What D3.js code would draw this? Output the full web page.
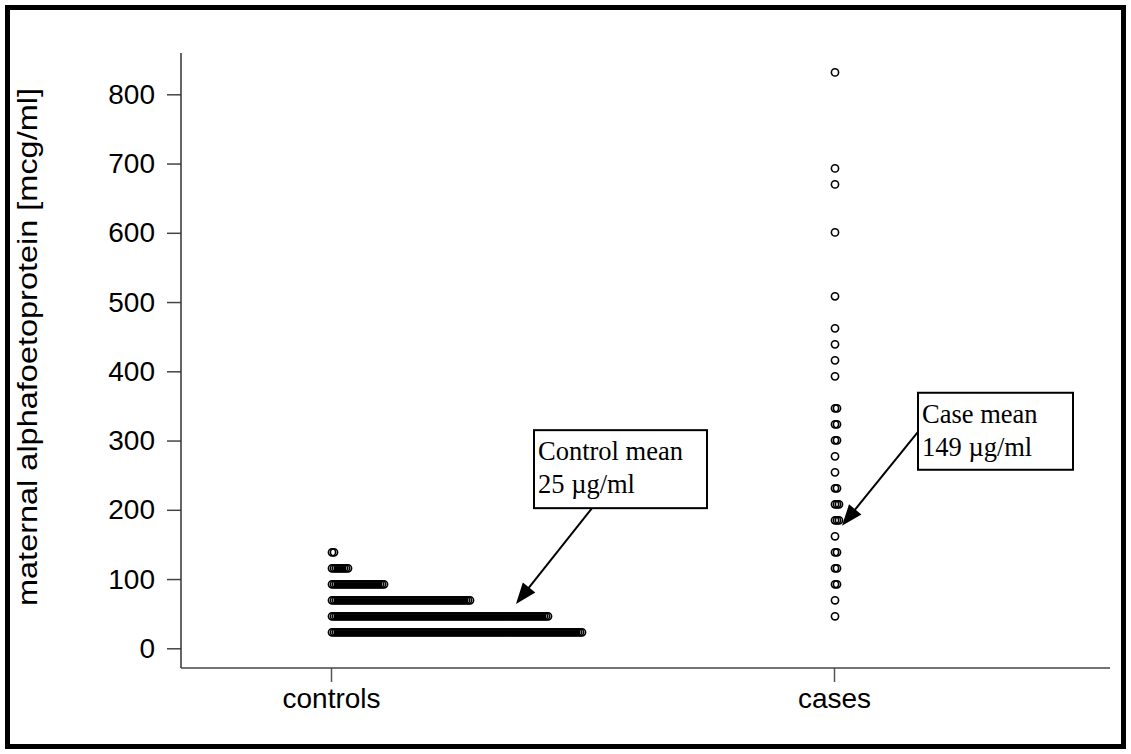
<!DOCTYPE html>
<html>
<head>
<meta charset="utf-8">
<script src="https://cdn.jsdelivr.net/npm/d3@7/dist/d3.min.js"></script>
<style>
  html, body { margin: 0; padding: 0; background: #fff; }
  svg { display: block; }
</style>
</head>
<body>
<svg id="chart" width="1131" height="754"></svg>
<script>
// Groups on the horizontal axis
const categories = ["controls", "cases"];
// Tick labels on the value axis
const yTicks = [0, 100, 200, 300, 400, 500, 600, 700, 800];

// Controls: distinct measured levels and how many women had each
const controlValues = [23.1, 46.2, 69.3, 92.4, 115.5, 138.6];
const controlCounts = [126, 109, 70, 27, 9, 2];

// Cases: distinct measured levels and how many women had each
const caseValues = [46.2, 69.3, 92.4, 115.5, 138.6, 161.7, 184.8, 207.9, 231.0, 254.1,
                    277.2, 300.3, 323.4, 346.5, 392.7, 415.8, 438.9, 462.0, 508.2,
                    600.6, 669.9, 693.0, 831.6];
const caseCounts = [1, 1, 2, 2, 2, 1, 3, 3, 2, 1,
                    1, 2, 2, 2, 1, 1, 1, 1, 1,
                    1, 1, 1, 1];

// Callouts: text lines, where the box sits and where the arrow points
const calloutLines = [["Control mean", "25 \u00B5g/ml"], ["Case mean", "149 \u00B5g/ml"]];
const calloutGroup = ["controls", "cases"];
const calloutBoxTop = [315, 369];       // value-axis units
const calloutBoxDx = [203, 84];         // px right of the group centre
const calloutBoxSize = [[173, 78], [155, 77]];
const calloutTipValue = [64, 177];      // value-axis units
const calloutTipDx = [185, 8];          // px right of the group centre
const calloutTailFrom = ["bottom", "left"];

const svg = d3.select("#chart");
const W = 1131, H = 754;
const plot = { left: 181, right: 1110, top: 53, bottom: 668 };
const sans = "'Liberation Sans', Arial, sans-serif";
const serif = "'Liberation Serif', 'Times New Roman', serif";

const x = d3.scalePoint().domain(categories).range([331, 834]);
const y = d3.scaleLinear().domain([0, 800]).range([648.3, 94.3]);

// Outer frame
svg.append("rect")
  .attr("x", 7.5).attr("y", 7.5)
  .attr("width", W - 15).attr("height", H - 15)
  .attr("fill", "none").attr("stroke", "#000").attr("stroke-width", 5);

// Value axis
const yAxis = svg.append("g")
  .attr("transform", `translate(${plot.left},0)`)
  .call(d3.axisLeft(y).tickValues(yTicks).tickSize(14).tickPadding(12).tickSizeOuter(0));
yAxis.select(".domain").remove();
yAxis.selectAll(".tick line").attr("stroke", "#444").attr("stroke-width", 1.5);
yAxis.selectAll(".tick text")
  .attr("font-family", sans)
  .attr("font-size", 28).attr("fill", "#000");

svg.append("line")
  .attr("x1", plot.left).attr("x2", plot.left)
  .attr("y1", plot.top).attr("y2", plot.bottom)
  .attr("stroke", "#333").attr("stroke-width", 1.5);

// Group axis
const xAxis = svg.append("g")
  .attr("transform", `translate(0,${plot.bottom})`)
  .call(d3.axisBottom(x).tickSize(14).tickPadding(6).tickSizeOuter(0));
xAxis.select(".domain").remove();
xAxis.selectAll(".tick line").attr("stroke", "#555").attr("stroke-width", 1.5);
xAxis.selectAll(".tick text")
  .attr("font-family", sans)
  .attr("font-size", 28).attr("fill", "#000");

svg.append("line")
  .attr("x1", plot.left).attr("x2", plot.right)
  .attr("y1", plot.bottom).attr("y2", plot.bottom)
  .attr("stroke", "#444").attr("stroke-width", 1.5);

// Axis title
svg.append("text")
  .attr("transform", `translate(37,347) rotate(-90)`)
  .attr("text-anchor", "middle")
  .attr("font-family", sans)
  .attr("font-size", 27).attr("fill", "#000")
  .attr("textLength", 518).attr("lengthAdjust", "spacingAndGlyphs")
  .text("maternal alphafoetoprotein [mcg/ml]");

// Stacked dot plot: equal values are laid side by side, moving right
const stackStep = 2;
function stack(group, values, counts) {
  const pts = [];
  values.forEach((v, i) => {
    for (let k = 0; k < counts[i]; k++) pts.push({ group, value: v, slot: k });
  });
  return pts;
}
const points = stack("controls", controlValues, controlCounts)
  .concat(stack("cases", caseValues, caseCounts));

svg.append("g")
  .selectAll("circle")
  .data(points)
  .join("circle")
  .attr("cx", d => x(d.group) + 1 + d.slot * stackStep)
  .attr("cy", d => y(d.value))
  .attr("r", 3.6)
  .attr("fill", "none")
  .attr("stroke", "#000")
  .attr("stroke-width", 1.6);

// Callouts with arrows
const callouts = calloutLines.map((lines, i) => {
  const left = x(calloutGroup[i]) + calloutBoxDx[i];
  const top = y(calloutBoxTop[i]);
  const [bw, bh] = calloutBoxSize[i];
  const tail = calloutTailFrom[i] === "bottom"
    ? [left + 58, top + bh]
    : [left, top + 39];
  const tip = [x(calloutGroup[i]) + calloutTipDx[i], y(calloutTipValue[i])];
  return { lines, left, top, bw, bh, tail, tip };
});

const cg = svg.append("g").selectAll("g").data(callouts).join("g");

cg.append("line")
  .attr("x1", d => d.tail[0]).attr("y1", d => d.tail[1])
  .attr("x2", d => {
    const ang = Math.atan2(d.tip[1] - d.tail[1], d.tip[0] - d.tail[0]);
    return d.tip[0] - Math.cos(ang) * 16;
  })
  .attr("y2", d => {
    const ang = Math.atan2(d.tip[1] - d.tail[1], d.tip[0] - d.tail[0]);
    return d.tip[1] - Math.sin(ang) * 16;
  })
  .attr("stroke", "#000").attr("stroke-width", 2);

cg.append("path")
  .attr("d", d => {
    const ang = Math.atan2(d.tip[1] - d.tail[1], d.tip[0] - d.tail[0]);
    const len = 21, half = 8;
    const bx = d.tip[0] - Math.cos(ang) * len, by = d.tip[1] - Math.sin(ang) * len;
    const px = -Math.sin(ang) * half, py = Math.cos(ang) * half;
    return `M${d.tip[0]},${d.tip[1]}L${bx + px},${by + py}L${bx - px},${by - py}Z`;
  })
  .attr("fill", "#000");

cg.append("rect")
  .attr("x", d => d.left).attr("y", d => d.top)
  .attr("width", d => d.bw).attr("height", d => d.bh)
  .attr("fill", "#fff").attr("stroke", "#000").attr("stroke-width", 2);

cg.each(function (d) {
  const g = d3.select(this);
  d.lines.forEach((t, j) => {
    g.append("text")
      .attr("x", d.left + 4)
      .attr("y", d.top + 30 + j * 33)
      .attr("font-family", serif)
      .attr("font-size", 26.5).attr("fill", "#000")
      .text(t);
  });
});
</script>
</body>
</html>
